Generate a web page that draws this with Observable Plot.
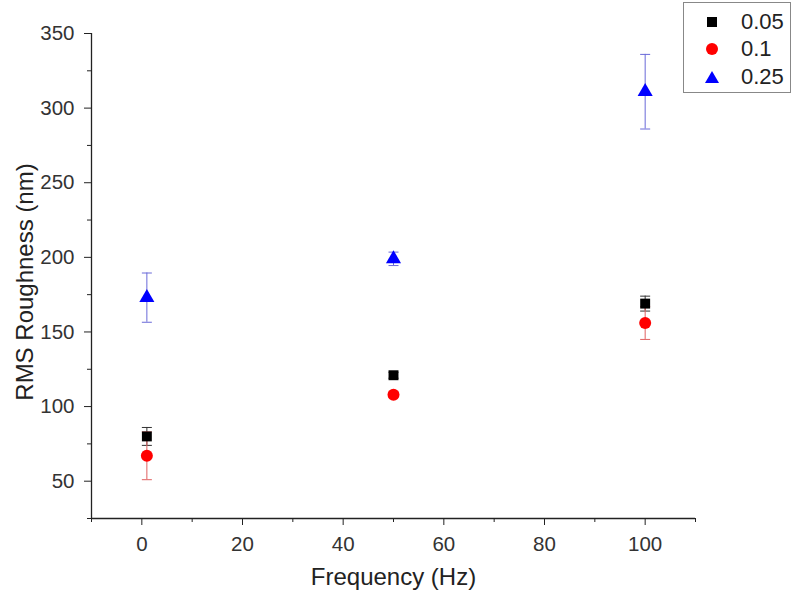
<!DOCTYPE html>
<html>
<head>
<meta charset="utf-8">
<script src="https://cdn.jsdelivr.net/npm/d3@7"></script>
<script src="https://cdn.jsdelivr.net/npm/@observablehq/plot@0.6"></script>
<style>
  body { margin: 0; background: #fff; font-family: "Liberation Sans", Arial, sans-serif; }
  #wrap { position: relative; width: 800px; height: 597px; }
  #legend { position: absolute; left: 683px; top: 2px; width: 108px; height: 91px; border: 1.5px solid #888; box-sizing: border-box; background: #fff; }
  .row { position: absolute; left: 0; height: 26px; display: flex; align-items: center; }
  .row svg { margin-left: 21px; }
  .row span { margin-left: 22px; font-size: 22px; color: #222; }
</style>
</head>
<body>
<div id="wrap"></div>
<script>
const frequency = [1, 50, 100];
const seriesNames = ["0.05", "0.1", "0.25"];
const mean005 = [80, 121, 169];
const err005 = [6, 2, 5];
const mean01 = [67, 108, 156];
const err01 = [16, 2, 11];
const mean025 = [173, 199, 311];
const err025 = [16.5, 4.5, 25];
const colors = ["#000000", "#ff0000", "#0000ff"];
const errColors = ["#333333", "#e06060", "#6a6ad8"];
const symbols = ["square", "circle", "triangle"];
const radii = [5.6, 6, 5.6];
const xTicks = [0, 20, 40, 60, 80, 100];
const xMinor = [-10, 10, 30, 50, 70, 90, 110];
const yTicks = [50, 100, 150, 200, 250, 300, 350];
const yMinor = [25, 75, 125, 175, 225, 275, 325];

const means = [mean005, mean01, mean025];
const errs = [err005, err01, err025];
const bySeries = seriesNames.map((s, i) => frequency.map((f, j) => ({
  series: s, x: f, y: means[i][j], lo: means[i][j] - errs[i][j], hi: means[i][j] + errs[i][j]
})));

const capSymbol = {
  draw(context, size) {
    const r = Math.sqrt(size / Math.PI);
    context.moveTo(-r, 0);
    context.lineTo(r, 0);
  }
};

const errorMarks = bySeries.flatMap((d, i) => [
  Plot.ruleX(d, {x: "x", y1: "lo", y2: "hi", stroke: errColors[i], strokeWidth: 1}),
  Plot.dot(d, {x: "x", y: "hi", symbol: capSymbol, r: 5, stroke: errColors[i], strokeWidth: 1}),
  Plot.dot(d, {x: "x", y: "lo", symbol: capSymbol, r: 5, stroke: errColors[i], strokeWidth: 1})
]);
const pointMarks = bySeries.map((d, i) =>
  Plot.dot(d, {x: "x", y: "y", symbol: symbols[i], r: radii[i], fill: colors[i], stroke: "none"})
);

const axisFont = "Liberation Sans, Arial, sans-serif";
const chart = Plot.plot({
  width: 800,
  height: 597,
  marginLeft: 91,
  marginRight: 105,
  marginTop: 33,
  marginBottom: 79,
  style: {fontFamily: axisFont, background: "#fff", color: "#333"},
  x: {domain: [-10, 110]},
  y: {domain: [25, 350]},
  marks: [
    Plot.ruleY([25], {stroke: "#222", strokeWidth: 1.3}),
    Plot.ruleX([-10], {stroke: "#222", strokeWidth: 1.3}),
    Plot.axisX({ticks: xTicks, tickSize: 7, tickPadding: 11, fontSize: 20.5, stroke: "#222", fill: "#333", label: null, tickFormat: d => d}),
    Plot.axisX({ticks: xMinor, tickSize: 4, text: null, label: null, stroke: "#222"}),
    Plot.axisY({ticks: yTicks, tickSize: 7, tickPadding: 10, fontSize: 20.5, stroke: "#222", fill: "#333", label: null}),
    Plot.axisY({ticks: yMinor, tickSize: 4, text: null, label: null, stroke: "#222"}),
    Plot.text(["Frequency (Hz)"], {frameAnchor: "bottom", textAnchor: "middle", dy: 66, fontSize: 24, fill: "#222"}),
    Plot.text(["RMS Roughness (nm)"], {frameAnchor: "left", textAnchor: "middle", dx: -66, dy: 6, rotate: -90, fontSize: 24, fill: "#222"}),
    ...errorMarks,
    ...pointMarks
  ]
});

const wrap = document.getElementById("wrap");
wrap.appendChild(chart);

const legend = document.createElement("div");
legend.id = "legend";
const shapes = [
  '<rect x="2" y="2" width="10" height="10" fill="#000"/>',
  '<circle cx="7" cy="7" r="6" fill="#ff0000"/>',
  '<path d="M7,1 L14,13 L0,13 Z" fill="#0000ff"/>'
];
seriesNames.forEach((s, i) => {
  const row = document.createElement("div");
  row.className = "row";
  row.style.top = (5.5 + i * 27.5) + "px";
  row.innerHTML = `<svg width="14" height="14">${shapes[i]}</svg><span>${s}</span>`;
  legend.appendChild(row);
});
wrap.appendChild(legend);
</script>
</body>
</html>
